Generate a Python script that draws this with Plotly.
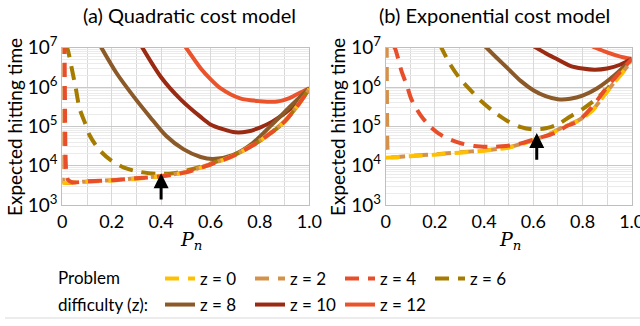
import plotly.graph_objects as go

# ---------------- data (y stored as log10 of hitting time) ----------------
z_labels = ["z = 0", "z = 2", "z = 4", "z = 6", "z = 8", "z = 10", "z = 12"]

# (a) Quadratic cost model
a_z0_x = [0, 0.1, 0.2, 0.3, 0.4, 0.5, 0.6, 0.7, 0.8, 0.85, 0.9, 0.95, 1.0]
a_z0_y = [3.56, 3.59, 3.62, 3.67, 3.73, 3.83, 4.03, 4.27, 4.63, 4.86, 5.12, 5.5, 5.95]
a_z2_x = [0.0008, 0.0015, 0.003, 0.006, 0.1, 0.2, 0.3, 0.4, 0.5, 0.6, 0.7, 0.8, 0.85, 0.9, 0.95, 1.0]
a_z2_y = [7.2, 5.0, 3.8, 3.58, 3.6, 3.63, 3.68, 3.74, 3.84, 4.04, 4.28, 4.64, 4.87, 5.13, 5.51, 5.95]
a_z4_x = [0.009, 0.011, 0.013, 0.016, 0.022, 0.04, 0.1, 0.2, 0.3, 0.4, 0.5, 0.6, 0.7, 0.8, 0.85, 0.9, 0.95, 1.0]
a_z4_y = [7.2, 5.5, 4.3, 3.85, 3.65, 3.58, 3.6, 3.63, 3.68, 3.73, 3.83, 4.03, 4.27, 4.63, 4.86, 5.12, 5.5, 5.95]
a_z6_x = [0.015, 0.025, 0.04, 0.055, 0.07, 0.09, 0.11, 0.15, 0.2, 0.25, 0.3, 0.35, 0.4, 0.45, 0.5, 0.6, 0.7, 0.8, 0.9, 1.0]
a_z6_y = [7.1, 6.88, 6.42, 5.95, 5.45, 5.12, 4.78, 4.4, 4.12, 3.95, 3.86, 3.81, 3.79, 3.81, 3.87, 4.05, 4.28, 4.63, 5.12, 5.95]
a_z8_x = [0.14, 0.22, 0.29, 0.355, 0.42, 0.49, 0.56, 0.61, 0.69, 0.77, 0.85, 0.93, 1.0]
a_z8_y = [7.2, 6.35, 5.75, 5.24, 4.76, 4.42, 4.22, 4.17, 4.27, 4.57, 5.05, 5.55, 5.97]
a_z10_x = [0.31, 0.4, 0.48, 0.56, 0.6, 0.65, 0.7, 0.75, 0.8, 0.85, 0.9, 0.95, 1.0]
a_z10_y = [7.15, 6.25, 5.68, 5.24, 5.05, 4.93, 4.85, 4.87, 4.97, 5.12, 5.33, 5.6, 5.95]
a_z12_x = [0.49, 0.56, 0.6, 0.64, 0.72, 0.8, 0.87, 0.92, 0.96, 1.0]
a_z12_y = [7.1, 6.48, 6.2, 5.97, 5.71, 5.64, 5.63, 5.72, 5.85, 5.97]

# (b) Exponential cost model
b_z0_x = [0, 0.1, 0.2, 0.3, 0.4, 0.5, 0.57, 0.65, 0.73, 0.78, 0.84, 0.89, 0.93, 0.97, 1.0]
b_z0_y = [4.2, 4.24, 4.28, 4.33, 4.38, 4.46, 4.58, 4.75, 5.0, 5.13, 5.4, 5.8, 6.12, 6.42, 6.7]
b_z2_x = [0.004, 0.006, 0.008, 0.015, 0.1, 0.2, 0.3, 0.4, 0.5, 0.57, 0.65, 0.73, 0.78, 0.84, 0.89, 0.93, 0.97, 1.0]
b_z2_y = [7.1, 5.0, 4.4, 4.23, 4.25, 4.29, 4.34, 4.39, 4.47, 4.59, 4.76, 5.01, 5.14, 5.41, 5.81, 6.13, 6.43, 6.7]
b_z4_x = [0.03, 0.038, 0.065, 0.085, 0.105, 0.14, 0.18, 0.23, 0.3, 0.36, 0.42, 0.49, 0.54, 0.6, 0.69, 0.74, 0.78, 0.84, 0.89, 0.93, 1.0]
b_z4_y = [7.05, 6.98, 6.39, 6.06, 5.68, 5.3, 5.0, 4.76, 4.58, 4.5, 4.48, 4.5, 4.55, 4.66, 4.84, 5.02, 5.12, 5.5, 5.92, 6.22, 6.71]
b_z6_x = [0.22, 0.26, 0.3, 0.34, 0.39, 0.44, 0.5, 0.55, 0.6, 0.65, 0.7, 0.75, 0.8, 0.86, 0.9, 0.95, 1.0]
b_z6_y = [7.08, 6.6, 6.23, 5.95, 5.63, 5.37, 5.12, 4.98, 4.92, 4.95, 5.05, 5.25, 5.44, 5.72, 5.95, 6.3, 6.7]
b_z8_x = [0.4, 0.45, 0.5, 0.55, 0.6, 0.65, 0.7, 0.75, 0.8, 0.86, 0.93, 1.0]
b_z8_y = [7.06, 6.75, 6.45, 6.15, 5.92, 5.77, 5.69, 5.7, 5.78, 5.97, 6.3, 6.71]
b_z10_x = [0.6, 0.65, 0.69, 0.75, 0.8, 0.85, 0.9, 0.95, 1.0]
b_z10_y = [7.04, 6.86, 6.73, 6.54, 6.47, 6.44, 6.47, 6.56, 6.71]
b_z12_x = [0.84, 0.9, 0.95, 1.0]
b_z12_y = [7.03, 6.88, 6.78, 6.71]

# arrows marking optimal P_n: (x, tip log10, tail log10)
arrow_a = (0.4, 3.81, 3.1)
arrow_b = (0.614, 4.83, 4.11)

xticks = [0, 0.2, 0.4, 0.6, 0.8, 1.0]
xtick_text = ["0", "0.2", "0.4", "0.6", "0.8", "1.0"]
yticks = [1e3, 1e4, 1e5, 1e6, 1e7]
ytick_text = ["10<sup>3</sup>", "10<sup>4</sup>", "10<sup>5</sup>", "10<sup>6</sup>", "10<sup>7</sup>"]
titles = ["(a) Quadratic cost model", "(b) Exponential cost model"]

# ---------------- styles ----------------
colors = ["#FFC000", "#D4914B", "#E84E2A", "#A67C00", "#8B5A28", "#9A2A12", "#EA532B"]
dashpat = "14px,9px"
dashes = [dashpat, dashpat, dashpat, dashpat, "solid", "solid", "solid"]
FONT = "Lato"

W, H = 640, 326
def px_x(p):
    return p / W
def px_y(p):
    return 1 - p / H

fig = go.Figure()

series_a = [(a_z0_x, a_z0_y), (a_z2_x, a_z2_y), (a_z4_x, a_z4_y), (a_z6_x, a_z6_y),
            (a_z8_x, a_z8_y), (a_z10_x, a_z10_y), (a_z12_x, a_z12_y)]
series_b = [(b_z0_x, b_z0_y), (b_z2_x, b_z2_y), (b_z4_x, b_z4_y), (b_z6_x, b_z6_y),
            (b_z8_x, b_z8_y), (b_z10_x, b_z10_y), (b_z12_x, b_z12_y)]

order = [6, 5, 4, 3, 1, 0, 2]  # drawing order (z=4 on top of z=0/2)
for panel, series in ((1, series_a), (2, series_b)):
    for i in order:
        xs, ly = series[i]
        fig.add_trace(go.Scatter(
            x=xs, y=[10 ** v for v in ly], mode="lines",
            line=dict(color=colors[i], width=4, dash=dashes[i], shape="spline", smoothing=0.8),
            name=z_labels[i],
            showlegend=False,
            xaxis="x" if panel == 1 else "x2",
            yaxis="y" if panel == 1 else "y2",
        ))

# legend-only traces
for i in range(7):
    fig.add_trace(go.Scatter(
        x=[None], y=[None], mode="lines",
        line=dict(color=colors[i], width=4, dash=dashes[i]),
        name=z_labels[i], showlegend=True,
        legend="legend" if i < 4 else "legend2",
    ))

axis_x = dict(range=[0, 1], tickvals=xticks, ticktext=xtick_text, showgrid=True,
              gridcolor="#D9D9D9", gridwidth=1, zeroline=False, automargin=False,
              minor=dict(dtick=0.1, tick0=0, showgrid=True, gridcolor="#D9D9D9", ticklen=0),
              showline=True, linecolor="#BFBFBF", mirror=True, ticks="",
              ticklabeloverflow="allow",
              tickfont=dict(family=FONT, size=18, color="#000"))
axis_y = dict(type="log", range=[3, 7], tickvals=yticks, ticktext=ytick_text, showgrid=True,
              gridcolor="#C8C8C8", gridwidth=1, zeroline=False, automargin=False,
              minor=dict(dtick="D1", showgrid=True, gridcolor="#EBEBEB", ticklen=0),
              showline=True, linecolor="#BFBFBF", mirror=True, ticks="",
              ticklabeloverflow="allow",
              tickfont=dict(family=FONT, size=19, color="#000"))

xa = dict(axis_x, domain=[px_x(62.3), px_x(309.3)], anchor="y")
xb = dict(axis_x, domain=[px_x(385.7), px_x(631.7)], anchor="y2")
ya = dict(axis_y, domain=[px_y(205), px_y(47.7)], anchor="x")
yb = dict(axis_y, domain=[px_y(205), px_y(47.7)], anchor="x2")

def ann(text, x, y, size, **kw):
    d = dict(text=text, x=px_x(x), y=px_y(y), xref="paper", yref="paper",
             xanchor="center", yanchor="middle", showarrow=False,
             font=dict(family=kw.pop("family", FONT), size=size, color="#000"))
    d.update(kw)
    return d

annotations = [
    ann(titles[0], 189, 15, 20),
    ann(titles[1], 494, 15, 20),
    ann("Expected hitting time", 15, 127, 19, textangle=-90),
    ann("Expected hitting time", 338, 127, 19, textangle=-90),
    ann("<i>P</i><sub><i>n</i></sub>", 191, 241, 19, family="DejaVu Serif"),
    ann("<i>P</i><sub><i>n</i></sub>", 510, 241, 19, family="DejaVu Serif"),
    ann("Problem", 56, 277, 17, xanchor="left", align="left"),
    ann("difficulty (z):", 56, 304, 17, xanchor="left", align="left"),
    dict(x=arrow_a[0], y=arrow_a[1], ax=arrow_a[0], ay=arrow_a[2], xref="x", yref="y",
         axref="x", ayref="y", text="", showarrow=True, arrowhead=2, arrowsize=1,
         arrowwidth=3, arrowcolor="#000"),
    dict(x=arrow_b[0], y=arrow_b[1], ax=arrow_b[0], ay=arrow_b[2], xref="x2", yref="y2",
         axref="x2", ayref="y2", text="", showarrow=True, arrowhead=2, arrowsize=1,
         arrowwidth=3, arrowcolor="#000"),
]

legend_common = dict(orientation="h", xanchor="left", yanchor="middle", x=px_x(160),
                     entrywidth=45, entrywidthmode="pixels", bgcolor="rgba(0,0,0,0)",
                     font=dict(family=FONT, size=17, color="#000"), tracegroupgap=0)

fig.update_layout(
    template="none",
    width=W, height=H, margin=dict(l=0, r=0, t=0, b=0, autoexpand=False),
    paper_bgcolor="#FFFFFF", plot_bgcolor="#FFFFFF",
    xaxis=xa, yaxis=ya, xaxis2=xb, yaxis2=yb,
    annotations=annotations,
    legend=dict(legend_common, y=px_y(279)),
    legend2=dict(legend_common, y=px_y(305)),
    shapes=[dict(type="line", xref="paper", yref="paper", x0=px_x(5), x1=1,
                 y0=px_y(318), y1=px_y(318), line=dict(color="#D9D9D9", width=1))],
    font=dict(family=FONT),
    hovermode=False,
)

fig.write_html("out.html",
               config={"displayModeBar": False, "staticPlot": True},
               post_script="document.body.style.margin='0px'; document.body.style.overflow='hidden';")
